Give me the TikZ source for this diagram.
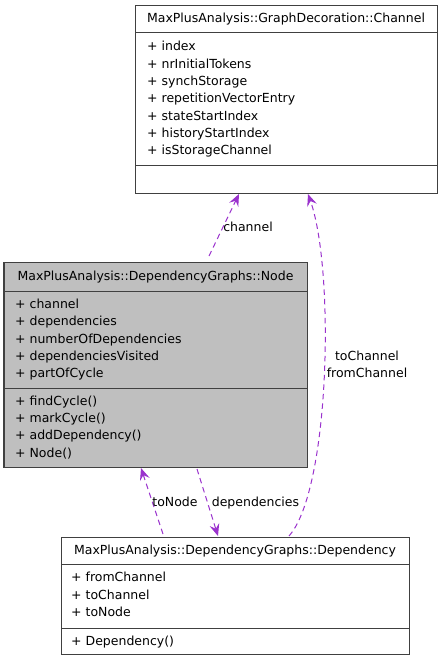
\documentclass[tikz,border=0pt]{standalone}
\usepackage{fontspec}
\setmainfont{DejaVu Sans}
\usetikzlibrary{arrows.meta}
\newlength{\du}
\setlength{\du}{10\unitlength}
\definecolor{boxlinecolor}{rgb}{0.250000, 0.250000, 0.250000}
\definecolor{nodefillcolor}{rgb}{0.749020, 0.749020, 0.749020}
\definecolor{edgecolor}{rgb}{0.603922, 0.196078, 0.803922}

\begin{document}
\begin{tikzpicture}
\pgftransformxscale{1.000000}
\pgftransformyscale{-1.000000}
\tikzset{
  classbox/.style={draw=boxlinecolor, line width=1pt, anchor=north west, inner sep=0pt, outer sep=0pt},
  classtitle/.style={anchor=base, inner sep=0pt, font=\fontsize{12.5}{15}\selectfont},
  member/.style={anchor=base west, inner sep=0pt, font=\fontsize{12.5}{15}\selectfont},
  role/.style={anchor=base, inner sep=0pt, font=\fontsize{12.5}{15}\selectfont},
  uses/.style={draw=edgecolor, line width=1pt, dash pattern=on 5.5pt off 4pt,
    -{Stealth[length=12pt, width=10pt, inset=4.5pt]}}
}
\useasboundingbox (0\du,0\du) rectangle (44.300000\du,66.100000\du);
% class Channel
\node[classbox, fill=white, minimum width=30.200000\du, minimum height=18.800000\du] (channel) at (13.500000\du,0.550000\du) {};
\draw[draw=boxlinecolor, line width=1pt] (13.500000\du,3.300000\du)--(43.700000\du,3.300000\du);
\draw[draw=boxlinecolor, line width=1pt] (13.500000\du,16.550000\du)--(43.700000\du,16.550000\du);
\node[classtitle] (channeltitle) at (28.600000\du,2.270000\du) {MaxPlusAnalysis::GraphDecoration::Channel};
\node[member] (chindex) at (14.700000\du,5.070000\du) {+ index};
\node[member] (chtokens) at (14.700000\du,6.805000\du) {+ nrInitialTokens};
\node[member] (chsynch) at (14.700000\du,8.540000\du) {+ synchStorage};
\node[member] (chrepvec) at (14.700000\du,10.275000\du) {+ repetitionVectorEntry};
\node[member] (chstate) at (14.700000\du,12.010000\du) {+ stateStartIndex};
\node[member] (chhistory) at (14.700000\du,13.745000\du) {+ historyStartIndex};
\node[member] (chstorage) at (14.700000\du,15.480000\du) {+ isStorageChannel};
% class Node
\node[classbox, fill=nodefillcolor, minimum width=30.300000\du, minimum height=20.500000\du] (node) at (0.400000\du,26.200000\du) {};
\draw[draw=boxlinecolor, line width=1pt] (0.400000\du,29.100000\du)--(30.700000\du,29.100000\du);
\draw[draw=boxlinecolor, line width=1pt] (0.400000\du,38.800000\du)--(30.700000\du,38.800000\du);
\node[classtitle] (nodetitle) at (15.550000\du,28.000000\du) {MaxPlusAnalysis::DependencyGraphs::Node};
\node[member] (ndchannel) at (1.500000\du,30.830000\du) {+ channel};
\node[member] (nddeps) at (1.500000\du,32.565000\du) {+ dependencies};
\node[member] (ndnumber) at (1.500000\du,34.300000\du) {+ numberOfDependencies};
\node[member] (ndvisited) at (1.500000\du,36.035000\du) {+ dependenciesVisited};
\node[member] (ndpart) at (1.500000\du,37.770000\du) {+ partOfCycle};
\node[member] (ndfind) at (1.500000\du,40.500000\du) {+ findCycle()};
\node[member] (ndmark) at (1.500000\du,42.235000\du) {+ markCycle()};
\node[member] (ndadd) at (1.500000\du,43.970000\du) {+ addDependency()};
\node[member] (ndctor) at (1.500000\du,45.705000\du) {+ Node()};
% class Dependency
\node[classbox, fill=white, minimum width=34.800000\du, minimum height=11.700000\du] (dependency) at (6.100000\du,53.700000\du) {};
\draw[draw=boxlinecolor, line width=1pt] (6.100000\du,56.400000\du)--(40.900000\du,56.400000\du);
\draw[draw=boxlinecolor, line width=1pt] (6.100000\du,62.800000\du)--(40.900000\du,62.800000\du);
\node[classtitle] (deptitle) at (23.500000\du,55.430000\du) {MaxPlusAnalysis::DependencyGraphs::Dependency};
\node[member] (dpfrom) at (7.100000\du,58.170000\du) {+ fromChannel};
\node[member] (dpto) at (7.100000\du,59.905000\du) {+ toChannel};
\node[member] (dpnode) at (7.100000\du,61.640000\du) {+ toNode};
\node[member] (dpctor) at (7.100000\du,64.500000\du) {+ Dependency()};
% edge ends
\coordinate (nodechannelout) at (20.900000\du,25.600000\du);
\coordinate (channelinleft) at (23.900000\du,19.400000\du);
\coordinate (depchannelout) at (28.900000\du,53.600000\du);
\coordinate (channelinright) at (30.800000\du,19.400000\du);
\coordinate (nodedepsout) at (19.700000\du,46.900000\du);
\coordinate (depin) at (21.800000\du,53.600000\du);
\coordinate (depnodeout) at (16.300000\du,53.400000\du);
\coordinate (nodein) at (14.100000\du,46.800000\du);
% edges
\draw[uses] (nodechannelout)--(channelinleft);
\node[role] (lblchannel) at (24.800000\du,23.100000\du) {channel};
\draw[uses] (depchannelout) .. controls (33.000000\du,49.000000\du) and (33.500000\du,27.000000\du) .. (channelinright);
\node[role] (lbltochannel) at (36.700000\du,36.000000\du) {toChannel};
\node[role] (lblfromchannel) at (36.700000\du,37.730000\du) {fromChannel};
\draw[uses] (nodedepsout)--(depin);
\node[role] (lbldeps) at (25.550000\du,50.600000\du) {dependencies};
\draw[uses] (depnodeout)--(nodein);
\node[role] (lbltonode) at (17.500000\du,50.600000\du) {toNode};
\end{tikzpicture}
\end{document}
